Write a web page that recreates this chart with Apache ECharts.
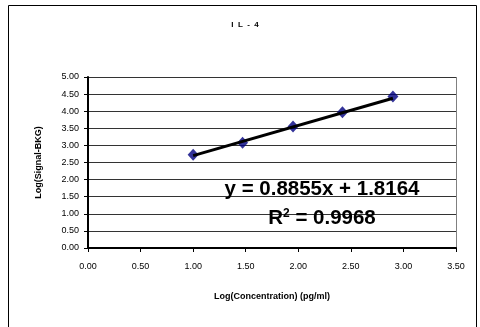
<!DOCTYPE html>
<html>
<head>
<meta charset="utf-8">
<script src="https://cdn.jsdelivr.net/npm/echarts@6/dist/echarts.min.js"></script>
<style>
  html, body { margin: 0; padding: 0; background: #fff; }
  #main { width: 480px; height: 327px; }
</style>
</head>
<body>
<div id="main"></div>
<script>
// values
var concLog = [1.00, 1.47, 1.95, 2.42, 2.90];
var signalLog = [2.73, 3.08, 3.55, 3.97, 4.43];
var trendX = [1.00, 2.90];
var trendY = [2.70, 4.38];
var eqText = 'y = 0.8855x + 1.8164';
var r2Text = 'R{sup|2} = 0.9968';

var chart = echarts.init(document.getElementById('main'));

var points = concLog.map(function (x, i) { return [x, signalLog[i]]; });
var trend = trendX.map(function (x, i) { return [x, trendY[i]]; });

var option = {
    backgroundColor: '#fff',
    animation: false,
    grid: { left: 88, top: 77, width: 368, height: 171 },
    xAxis: {
        type: 'value',
        min: 0, max: 3.5, interval: 0.5,
        name: 'Log(Concentration) (pg/ml)',
        nameLocation: 'middle',
        nameGap: 44,
        nameTextStyle: { fontFamily: 'Liberation Sans', fontSize: 9, fontWeight: 'bold', color: '#000' },
        axisLine: { onZero: false, lineStyle: { color: '#000', width: 2 } },
        axisTick: { show: true, length: 4, lineStyle: { color: '#000' } },
        axisLabel: {
            formatter: function (v) { return v.toFixed(2); },
            fontFamily: 'Liberation Sans', fontSize: 9, color: '#000', margin: 14
        },
        splitLine: { show: false }
    },
    yAxis: {
        type: 'value',
        min: 0, max: 5, interval: 0.5,
        name: 'Log(Signal-BKG)',
        nameLocation: 'middle',
        nameGap: 45,
        nameTextStyle: { fontFamily: 'Liberation Sans', fontSize: 9, fontWeight: 'bold', color: '#000' },
        axisLine: { onZero: false, lineStyle: { color: '#000', width: 2 } },
        axisTick: { show: true, length: 4, lineStyle: { color: '#000' } },
        axisLabel: {
            formatter: function (v) { return v.toFixed(2); },
            fontFamily: 'Liberation Sans', fontSize: 9, color: '#000', margin: 9
        },
        splitLine: { show: true, lineStyle: { color: '#333', width: 1 } }
    },
    series: [
        {
            type: 'line',
            data: trend,
            symbol: 'none',
            lineStyle: { color: '#000', width: 3 },
            z: 3
        },
        {
            type: 'scatter',
            data: points,
            symbol: 'diamond',
            symbolSize: [11, 12],
            itemStyle: { color: '#000080' },
            z: 2
        }
    ],
    graphic: [
        {
            type: 'polyline',
            shape: { points: [[8.5, 330], [8.5, 5.5], [476.5, 5.5], [476.5, 330]] },
            style: { stroke: '#000', lineWidth: 1, fill: null }
        },
        {
            type: 'line',
            shape: { x1: 88, y1: 77.5, x2: 456.5, y2: 77.5 },
            style: { stroke: '#808080', lineWidth: 1 }
        },
        {
            type: 'line',
            shape: { x1: 456.5, y1: 77, x2: 456.5, y2: 248 },
            style: { stroke: '#808080', lineWidth: 1 }
        },
        {
            type: 'text',
            x: 245, y: 25,
            style: {
                text: 'I  L  -  4',
                textAlign: 'center', textVerticalAlign: 'middle',
                fontFamily: 'Liberation Sans', fontSize: 8, fontWeight: 'bold', fill: '#000'
            }
        },
        {
            type: 'text',
            x: 322, y: 189,
            style: {
                text: eqText,
                textAlign: 'center', textVerticalAlign: 'middle',
                fontFamily: 'Liberation Sans', fontSize: 20.5, fontWeight: 'bold', fill: '#000'
            },
            z: 10
        },
        {
            type: 'text',
            x: 322, y: 218,
            style: {
                text: r2Text,
                textAlign: 'center', textVerticalAlign: 'middle',
                fontFamily: 'Liberation Sans', fontSize: 20.5, fontWeight: 'bold', fill: '#000',
                rich: {
                    sup: { fontSize: 12, fontWeight: 'bold', verticalAlign: 'top', padding: [0, 0, 8, 0] }
                }
            },
            z: 10
        }
    ]
};

chart.setOption(option);
</script>
</body>
</html>
